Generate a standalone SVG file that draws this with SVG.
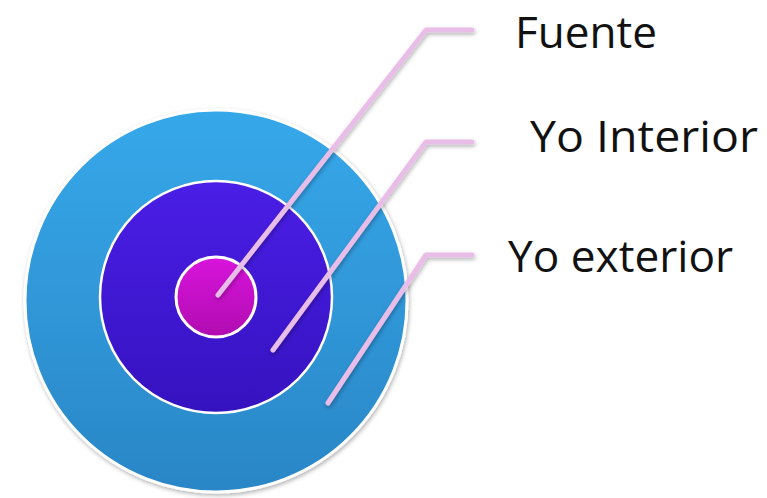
<svg xmlns="http://www.w3.org/2000/svg" width="767" height="498" viewBox="0 0 767 498">
<defs>
<linearGradient id="gOuter" x1="0" y1="0" x2="0" y2="1"><stop offset="0" stop-color="#36a8ea"/><stop offset="1" stop-color="#2a86c6"/></linearGradient>
<linearGradient id="gMid" x1="0" y1="0" x2="0" y2="1"><stop offset="0" stop-color="#4a1ee6"/><stop offset="1" stop-color="#3512bf"/></linearGradient>
<linearGradient id="gIn" x1="0" y1="0" x2="0" y2="1"><stop offset="0" stop-color="#d814dc"/><stop offset="1" stop-color="#b00cb0"/></linearGradient>
<filter id="sh" x="-10%" y="-10%" width="120%" height="120%"><feDropShadow dx="1" dy="2" stdDeviation="2" flood-color="#000" flood-opacity="0.3"/></filter>
</defs>
<style>
.ring{stroke:#ffffff;}
.conn{fill:none;stroke:#e8bde8;stroke-width:5;stroke-linecap:round;stroke-linejoin:round;}
.lbl{font-family:"Open Sans","Liberation Sans",sans-serif;font-size:43px;fill:#111111;}
</style>
<rect width="767" height="498" fill="#ffffff"/>
<g id="yo-exterior"><circle class="ring" cx="216" cy="301" r="191" fill="url(#gOuter)" stroke-width="3" filter="url(#sh)"/></g>
<g id="yo-interior"><circle class="ring" cx="216" cy="297" r="116" fill="url(#gMid)" stroke-width="2.5"/></g>
<g id="fuente"><circle class="ring" cx="216" cy="297" r="40" fill="url(#gIn)" stroke-width="3"/></g>
<g id="connectors" filter="url(#sh)">
<polyline class="conn" points="218,295 426,30 472,30"/>
<polyline class="conn" points="273,350 426,142 472,142"/>
<polyline class="conn" points="328,403 426,255 472,255"/>
</g>
<g id="labels">
<text class="lbl" x="515" y="48" textLength="142" lengthAdjust="spacingAndGlyphs">Fuente</text>
<text class="lbl" x="530" y="152" textLength="228" lengthAdjust="spacingAndGlyphs">Yo Interior</text>
<text class="lbl" x="508" y="272" textLength="225" lengthAdjust="spacingAndGlyphs">Yo exterior</text>
</g>
</svg>
